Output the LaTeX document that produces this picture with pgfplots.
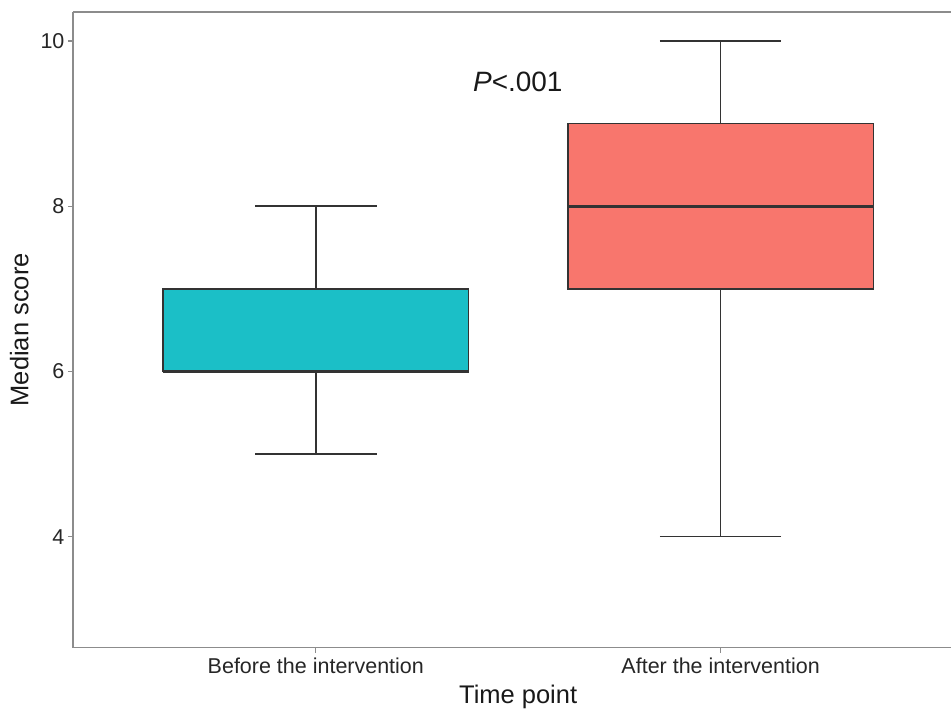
\documentclass[border=0pt]{standalone}
\usepackage{pgfplots}
\pgfplotsset{compat=1.18}
\usepgfplotslibrary{statistics}
\usepackage{fontspec}
\setmainfont{Liberation Sans}
\definecolor{cyanbox}{HTML}{1BBFC7}
\definecolor{salmonbox}{HTML}{F8766D}
\definecolor{edge}{HTML}{333333}
\definecolor{frame}{HTML}{8C8C8C}
\begin{document}
\begin{tikzpicture}
\begin{axis}[
  name=ax,
  scale only axis,
  width=879pt, height=636pt,
  xmin=0.4, xmax=2.570,
  ymin=2.657, ymax=10.351,
  axis x line*=box, axis y line*=left,
  axis line style={frame, line width=1.3pt},
  tick style={frame, line width=1.3pt},
  tick align=outside,
  major tick length=5pt,
  xtick={1,2},
  xticklabels={Before the intervention, After the intervention},
  ytick={4,6,8,10},
  xtick pos=bottom, ytick pos=left,
  /pgf/number format/assume math mode=true,
  ticklabel style={font=\fontsize{21.5}{25}\selectfont, text=black!85},
  xticklabel style={yshift=-2pt},
  xlabel={Time point}, ylabel={Median score},
  label style={font=\fontsize{25.5}{29}\selectfont, text=black!90},
  xlabel style={yshift=-4pt, xshift=6pt},
  ylabel style={yshift=5pt},
  boxplot/draw direction=y,
  boxplot/box extend=0.755,
  boxplot/whisker extend=0.3,
  boxplot/every box/.style={draw=edge, line width=1.5pt},
  boxplot/every whisker/.style={draw=edge, line width=1.6pt},
  boxplot/every median/.style={draw=edge, line width=3.2pt},
  clip=false,
]
\addplot[fill=cyanbox, draw=edge, boxplot prepared={
  draw position=1, lower whisker=5, lower quartile=6, median=6,
  upper quartile=7, upper whisker=8}] coordinates {};
\addplot[fill=salmonbox, draw=edge, boxplot prepared={
  draw position=2, lower whisker=4, lower quartile=7, median=8,
  upper quartile=9, upper whisker=10}] coordinates {};
\node[font=\fontsize{28}{32}\selectfont, text=black!90] at (axis cs:1.499,9.504) {\textit{P}<.001};
\end{axis}
\path[use as bounding box] ([xshift=-73pt,yshift=-58pt]ax.south west) rectangle ([yshift=12pt]ax.north east);
\end{tikzpicture}
\end{document}
